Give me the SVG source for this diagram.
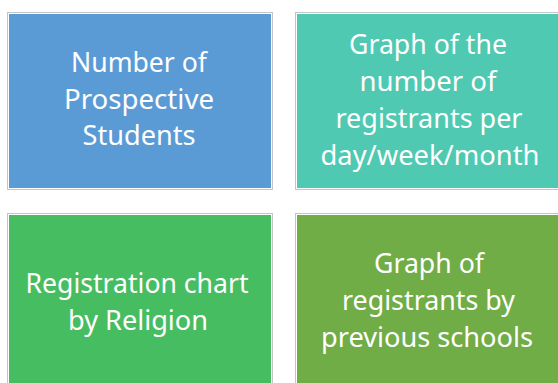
<svg xmlns="http://www.w3.org/2000/svg" width="558" height="383" viewBox="0 0 558 383">
<style>
.frame{fill:#ffffff;stroke:#c4c4c4;stroke-width:1}
.lbl{font-family:"Noto Sans","Open Sans",sans-serif;font-size:27.5px;fill:#ffffff;text-anchor:middle}
</style>
<rect width="558" height="383" fill="#ffffff"/>
<g id="node-prospective">
<rect class="frame" x="7.5" y="12.5" width="265" height="177"/>
<rect x="9" y="14" width="262" height="174" fill="#5b9bd5"/>
<text class="lbl" x="139" y="72" textLength="136" lengthAdjust="spacingAndGlyphs">Number of</text>
<text class="lbl" x="139" y="108.5" textLength="150" lengthAdjust="spacingAndGlyphs">Prospective</text>
<text class="lbl" x="139" y="145" textLength="113" lengthAdjust="spacingAndGlyphs">Students</text>
</g>
<g id="node-per-day">
<rect class="frame" x="295.5" y="12.5" width="270" height="177"/>
<rect x="297" y="14" width="267" height="174" fill="#4fc9b2"/>
<text class="lbl" x="428" y="54" textLength="158" lengthAdjust="spacingAndGlyphs">Graph of the</text>
<text class="lbl" x="428" y="91" textLength="137" lengthAdjust="spacingAndGlyphs">number of</text>
<text class="lbl" x="429" y="128" textLength="187" lengthAdjust="spacingAndGlyphs">registrants per</text>
<text class="lbl" x="430" y="164.5" textLength="219" lengthAdjust="spacingAndGlyphs">day/week/month</text>
</g>
<g id="node-religion">
<rect class="frame" x="7.5" y="213.5" width="265" height="177"/>
<rect x="9" y="215" width="262" height="174" fill="#47bd62"/>
<text class="lbl" x="137" y="293.3" textLength="223" lengthAdjust="spacingAndGlyphs">Registration chart</text>
<text class="lbl" x="138" y="329.5" textLength="140" lengthAdjust="spacingAndGlyphs">by Religion</text>
</g>
<g id="node-schools">
<rect class="frame" x="295.5" y="213.5" width="270" height="177"/>
<rect x="297" y="215" width="267" height="174" fill="#70ad47"/>
<text class="lbl" x="429" y="273" textLength="110" lengthAdjust="spacingAndGlyphs">Graph of</text>
<text class="lbl" x="428.5" y="310" textLength="173" lengthAdjust="spacingAndGlyphs">registrants by</text>
<text class="lbl" x="427" y="347" textLength="212" lengthAdjust="spacingAndGlyphs">previous schools</text>
</g>
<g id="connectors"/>
</svg>
